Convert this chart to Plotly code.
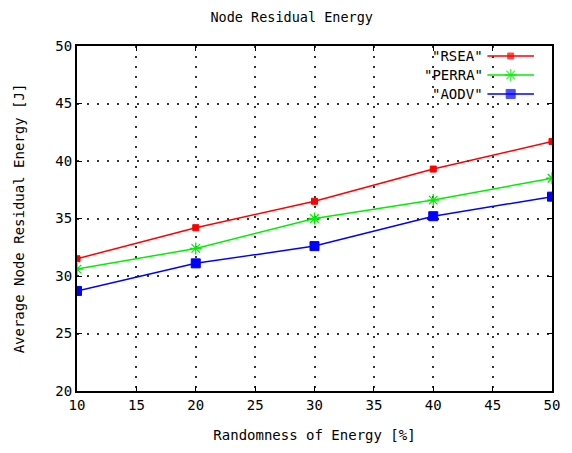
import plotly.graph_objects as go

# Randomness of energy (%) on the x axis
randomness = [10, 20, 30, 40, 50]

# Average node residual energy (J) per protocol
rsea = [31.5, 34.2, 36.5, 39.3, 41.7]
perra = [30.6, 32.4, 35.0, 36.6, 38.5]
aodv = [28.7, 31.1, 32.6, 35.2, 36.9]

series_names = ['"RSEA"', '"PERRA"', '"AODV"']
x_ticks = [10, 15, 20, 25, 30, 35, 40, 45, 50]
y_ticks = [20, 25, 30, 35, 40, 45, 50]

FONT = "DejaVu Sans Mono"
styles = [
    dict(color="#ff0000", symbol="square", size=6, lw=1),
    dict(color="#00ee00", symbol="asterisk-open", size=10, lw=1.3),
    dict(color="#0000ff", symbol="square", size=9, lw=1),
]

fig = go.Figure()
for name, vals, st in zip(series_names, [rsea, perra, aodv], styles):
    fig.add_trace(go.Scatter(
        x=randomness, y=vals, name=name, mode="lines+markers",
        line=dict(color=st["color"], width=1.5),
        marker=dict(symbol=st["symbol"], size=st["size"], color=st["color"],
                    line=dict(color=st["color"], width=st["lw"])),
        showlegend=False,
    ))

# Key in the upper right corner: label text followed by a line sample
key_rows = [0.971, 0.916, 0.861]
for name, st, ky in zip(series_names, styles, key_rows):
    fig.add_trace(go.Scatter(
        x=[0.864, 0.913, 0.962], y=[ky, ky, ky], xaxis="x2", yaxis="y2",
        mode="lines+markers",
        line=dict(color=st["color"], width=1.5),
        marker=dict(symbol=st["symbol"], size=[0, st["size"], 0], color=st["color"],
                    line=dict(color=st["color"], width=st["lw"])),
        showlegend=False, hoverinfo="skip",
    ))
    fig.add_annotation(x=0.858, y=ky, xref="paper", yref="paper", text=name,
                       showarrow=False, xanchor="right", yanchor="middle",
                       font=dict(family=FONT, size=14, color="black"))

axis_common = dict(
    showline=True, linewidth=2, linecolor="black", mirror="allticks",
    ticks="inside", ticklen=5, tickwidth=1, tickcolor="black",
    showgrid=True, gridcolor="#333333", gridwidth=1.6, griddash="1.6px,8.4px",
    zeroline=False, tickfont=dict(family=FONT, size=14, color="black"),
)

fig.update_layout(
    width=572, height=453,
    margin=dict(l=77, r=17, t=46, b=61),
    plot_bgcolor="white", paper_bgcolor="white",
    title=dict(text="Node Residual Energy", x=0.51, xref="container",
               y=0.962, yref="container", xanchor="center", yanchor="middle",
               font=dict(family=FONT, size=13.5, color="black")),
    xaxis=dict(range=[10, 50], tickvals=x_ticks,
               title=dict(text="Randomness of Energy [%]", standoff=18,
                          font=dict(family=FONT, size=14, color="black")),
               **axis_common),
    yaxis=dict(range=[20, 50], tickvals=y_ticks,
               title=dict(text="Average Node Residual Energy [J]", standoff=27,
                          font=dict(family=FONT, size=14, color="black")),
               **axis_common),
    xaxis2=dict(range=[0, 1], overlaying="x", visible=False),
    yaxis2=dict(range=[0, 1], overlaying="y", visible=False),
)

fig.write_html("out.html")
